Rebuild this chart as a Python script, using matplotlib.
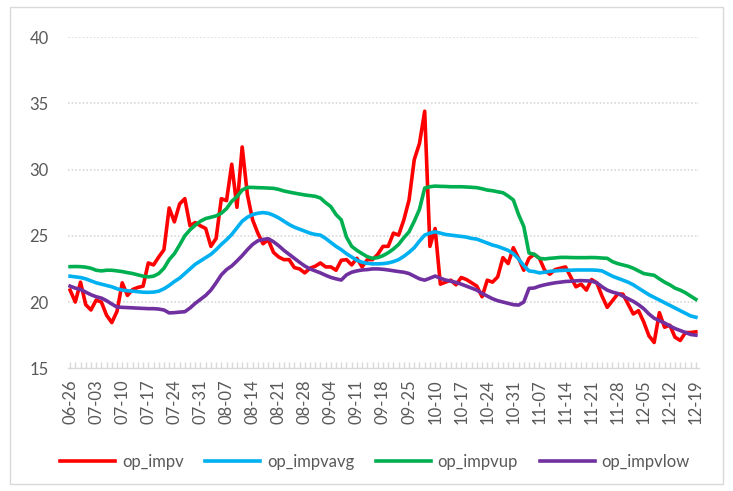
import matplotlib
matplotlib.use("Agg")
import matplotlib.pyplot as plt
import pandas as pd
from matplotlib.patches import Rectangle

plt.rcParams["font.family"] = ["Lato", "DejaVu Sans"]

# Trading calendar: weekdays minus the National Day / Mid-Autumn closure
trading_days = pd.bdate_range("2023-06-26", "2023-12-19")
holidays = pd.to_datetime(["2023-09-29", "2023-10-02", "2023-10-03",
                           "2023-10-04", "2023-10-05", "2023-10-06"])
dates = trading_days[~trading_days.isin(holidays)]

op_impv = [
    20.9, 20.0, 21.5, 19.8, 19.4, 20.15, 20.0, 19.0, 18.45, 19.3,
    21.45, 20.5, 20.95, 21.1, 21.2, 22.95, 22.8, 23.4, 23.95, 27.1,
    26.05, 27.4, 27.8, 25.75, 26.0, 25.75, 25.55, 24.2, 24.8, 27.8,
    27.65, 30.4, 27.15, 31.7, 28.1, 26.2, 25.2, 24.4, 24.7, 23.75,
    23.4, 23.2, 23.2, 22.6, 22.5, 22.2, 22.55, 22.7, 22.95, 22.65,
    22.65, 22.4, 23.15, 23.2, 22.8, 23.3, 22.65, 23.2, 23.2, 23.6,
    24.2, 24.2, 25.2, 25.05, 26.2, 27.7, 30.75, 31.97, 34.4, 24.2,
    25.55, 21.35, 21.5, 21.65, 21.3, 21.85, 21.7, 21.45, 21.2, 20.4,
    21.65, 21.5, 21.9, 23.35, 22.9, 24.1, 23.3, 22.4, 23.3, 23.6,
    23.3, 22.4, 22.1, 22.45, 22.55, 22.65, 21.9, 21.15, 21.35, 20.9,
    21.7, 21.45, 20.45, 19.6, 20.1, 20.6, 20.6, 19.85, 19.1, 19.35,
    18.5, 17.45, 16.95, 19.2, 18.1, 18.25, 17.35, 17.1, 17.7, 17.7,
    17.75,
]

op_impvavg = [
    21.95, 21.9, 21.85, 21.75, 21.6, 21.45, 21.35, 21.25, 21.15, 21.0,
    20.9, 20.85, 20.82, 20.78, 20.74, 20.73, 20.75, 20.82, 21.0, 21.25,
    21.55, 21.8, 22.15, 22.5, 22.85, 23.1, 23.35, 23.6, 23.95, 24.35,
    24.7, 25.1, 25.6, 26.1, 26.4, 26.6, 26.7, 26.75, 26.7, 26.55,
    26.35, 26.1, 25.85, 25.65, 25.5, 25.35, 25.2, 25.1, 25.05, 24.8,
    24.5, 24.2, 23.95, 23.65, 23.4, 23.15, 23.0, 22.92, 22.88, 22.88,
    22.9, 22.95, 23.05, 23.2, 23.45, 23.75, 24.1, 24.6, 25.05, 25.2,
    25.3, 25.2, 25.1, 25.05, 25.0, 24.95, 24.9, 24.8, 24.75, 24.6,
    24.45, 24.3, 24.2, 24.05, 23.9, 23.65, 23.25, 22.75, 22.35, 22.3,
    22.2, 22.25, 22.32, 22.35, 22.38, 22.4, 22.4, 22.42, 22.42, 22.42,
    22.42, 22.4, 22.35, 22.15, 21.95, 21.8, 21.65, 21.5, 21.3, 21.05,
    20.8, 20.55, 20.35, 20.15, 19.95, 19.75, 19.55, 19.35, 19.15, 18.95,
    18.85,
]

op_impvup = [
    22.67, 22.68, 22.67, 22.63, 22.55, 22.4, 22.35, 22.4, 22.4, 22.35,
    22.3, 22.22, 22.15, 22.05, 21.95, 21.9, 21.95, 22.15, 22.55, 23.2,
    23.65, 24.3, 25.0, 25.45, 25.8, 26.1, 26.3, 26.4, 26.5, 26.7,
    27.05, 27.6, 27.95, 28.45, 28.65, 28.65, 28.63, 28.62, 28.6, 28.58,
    28.5, 28.38, 28.3, 28.22, 28.15, 28.08, 28.03, 27.98, 27.85, 27.5,
    27.2, 26.6, 26.2, 24.9, 24.2, 23.9, 23.65, 23.42, 23.3, 23.35,
    23.5, 23.72, 24.0, 24.35, 24.85, 25.3, 26.1, 27.0, 28.6, 28.7,
    28.75, 28.73, 28.72, 28.7, 28.7, 28.7, 28.68, 28.66, 28.63, 28.55,
    28.45, 28.4, 28.32, 28.25, 28.0, 27.7, 26.6, 25.7, 23.7, 23.6,
    23.3, 23.25, 23.3, 23.33, 23.37, 23.37, 23.36, 23.35, 23.35, 23.35,
    23.36, 23.35, 23.32, 23.3, 23.05, 22.9, 22.8, 22.7, 22.55, 22.35,
    22.15, 22.08, 22.02, 21.75, 21.5, 21.3, 21.05, 20.9, 20.7, 20.45,
    20.2,
]

op_impvlow = [
    21.2, 21.05, 20.95, 20.75, 20.55, 20.4, 20.3, 20.1, 19.85, 19.62,
    19.6, 19.58, 19.56, 19.54, 19.52, 19.5, 19.5, 19.47, 19.4, 19.18,
    19.2, 19.24, 19.27, 19.55, 19.9, 20.2, 20.5, 20.9, 21.45, 22.05,
    22.45, 22.72, 23.1, 23.5, 23.95, 24.35, 24.62, 24.72, 24.78, 24.55,
    24.25, 23.9, 23.6, 23.3, 23.0, 22.72, 22.5, 22.35, 22.2, 22.02,
    21.86, 21.75, 21.66, 22.05, 22.25, 22.35, 22.42, 22.45, 22.5, 22.5,
    22.47, 22.42, 22.36, 22.3, 22.25, 22.15, 21.95, 21.75, 21.65, 21.8,
    21.96, 21.8, 21.66, 21.58, 21.48, 21.35, 21.2, 21.05, 20.9, 20.65,
    20.45, 20.25, 20.1, 20.0, 19.9, 19.8, 19.77, 20.0, 21.03, 21.06,
    21.2, 21.3, 21.38, 21.45, 21.5, 21.55, 21.57, 21.6, 21.62, 21.6,
    21.58, 21.45, 21.15, 20.9, 20.75, 20.65, 20.45, 20.25, 20.05, 19.8,
    19.5, 19.1, 18.78, 18.6, 18.42, 18.2, 18.0, 17.85, 17.7, 17.55,
    17.5,
]

series = [
    ("op_impv", op_impv, "#FF0000"),
    ("op_impvavg", op_impvavg, "#00B0F0"),
    ("op_impvup", op_impvup, "#00B050"),
    ("op_impvlow", op_impvlow, "#7030A0"),
]

W, H = 733, 491
fig = plt.figure(figsize=(W / 100, H / 100), dpi=100)
fig.patch.set_facecolor("white")

# outer chart-area frame
fig.add_artist(Rectangle((10 / W, 7 / H), (723 - 10) / W, (484 - 7) / H,
                         transform=fig.transFigure, fill=False,
                         edgecolor="#D9D9D9", lw=1.0))

ax = fig.add_axes([68 / W, 1 - 368.3 / H, (699 - 68) / W, (368.3 - 37) / H])

x = list(range(len(dates)))
for name, vals, col in series:
    ax.plot(x, vals, color=col, lw=2.6, label=name, solid_joinstyle="round")

ax.set_ylim(15, 40)
ax.set_yticks([15, 20, 25, 30, 35, 40])
ax.set_xlim(-0.4, len(dates) - 0.4)

grid_col = "#D9D9D9"
for yv in [20, 25, 30, 35, 40]:
    ax.axhline(yv, color=grid_col, lw=1.2, linestyle=(0, (1, 1.2)), zorder=0)

for side in ["top", "right", "left"]:
    ax.spines[side].set_visible(False)
ax.spines["bottom"].set_color(grid_col)
ax.spines["bottom"].set_linewidth(1.0)

major_idx = x[::5]
ax.set_xticks(major_idx)
ax.set_xticklabels([dates[i].strftime("%m-%d") for i in major_idx], rotation=90)
ax.set_xticks(x, minor=True)
ax.tick_params(axis="x", which="both", direction="in", length=4,
               color=grid_col, width=1.0, labelsize=12, labelcolor="#595959", pad=8)
ax.tick_params(axis="y", length=0, labelsize=12, labelcolor="#595959", pad=14)

fig.legend(loc="center", bbox_to_anchor=(375 / W, 1 - 462 / H), ncol=4,
           frameon=False, fontsize=12, handlelength=3.3, handletextpad=0.4,
           columnspacing=1.3, labelcolor="#595959")

fig.savefig("out.png", dpi=100, facecolor="white")
